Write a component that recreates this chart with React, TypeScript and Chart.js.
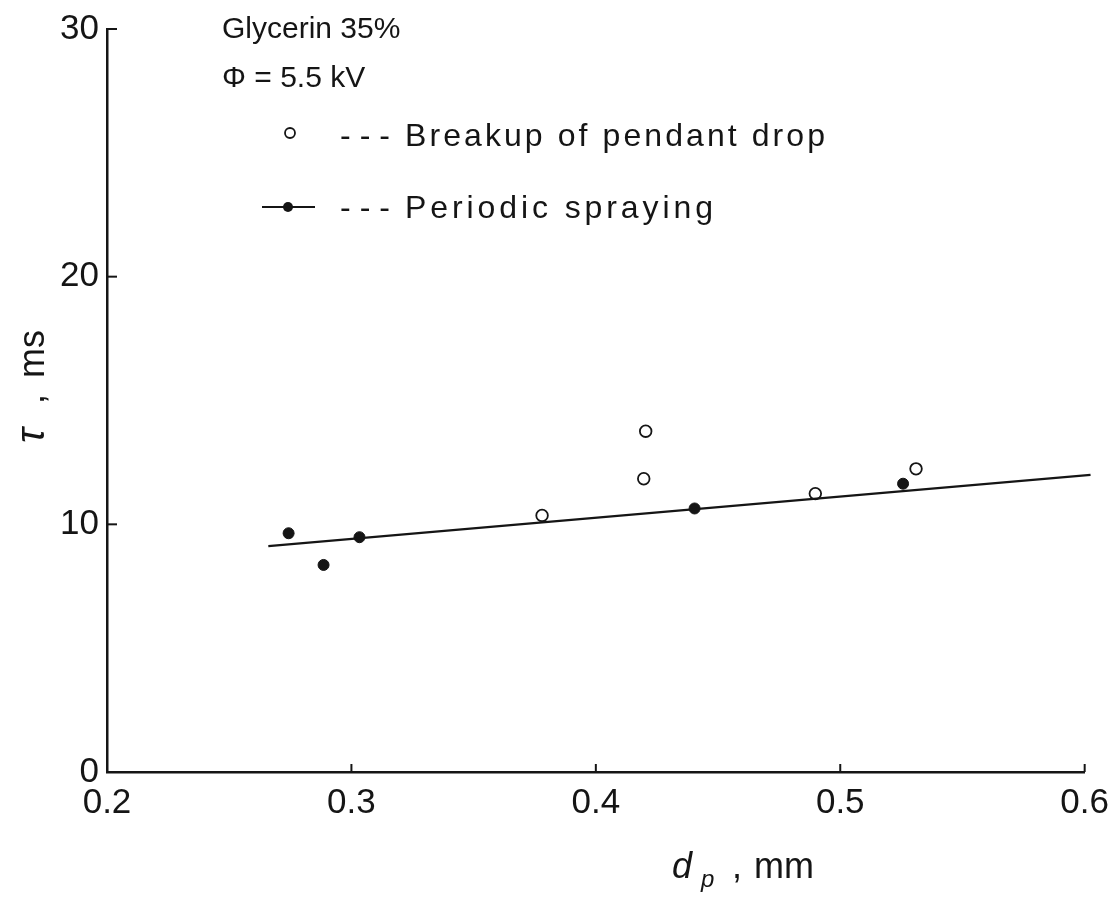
import React, { useEffect, useRef } from "react";
import { Chart, registerables } from "chart.js";

Chart.register(...registerables);

// Data
const breakupX = [0.378, 0.4204, 0.4196, 0.4898, 0.531];
const breakupY = [10.36, 13.76, 11.84, 11.24, 12.24];

const sprayX = [0.2743, 0.2886, 0.3033, 0.4404, 0.5257, 0.6045];
const sprayY = [9.64, 8.36, 9.48, 10.64, 11.64, 11.84];

const fitX = [0.266, 0.6024];
const fitY = [9.12, 12.0];

const xTicks = [0.2, 0.3, 0.4, 0.5, 0.6];
const yTicks = [0, 10, 20, 30];

const INK = "#151515";
const FONT = '"Liberation Sans", "DejaVu Sans", sans-serif';

function drawFit(ctx: CanvasRenderingContext2D, text: string, x: number, y: number, width: number) {
  const anyCtx = ctx as any;
  anyCtx.letterSpacing = "0px";
  const w = ctx.measureText(text).width;
  const n = Array.from(text).length;
  if ("letterSpacing" in anyCtx && n > 1) {
    anyCtx.letterSpacing = ((width - w) / (n - 1)).toFixed(2) + "px";
    ctx.fillText(text, x, y);
    anyCtx.letterSpacing = "0px";
  } else {
    ctx.save();
    ctx.translate(x, y);
    ctx.scale(width / w, 1);
    ctx.fillText(text, 0, 0);
    ctx.restore();
  }
}

const decorPlugin = {
  id: "decor",
  afterDraw(chart: any) {
    const ctx: CanvasRenderingContext2D = chart.ctx;
    const xs = chart.scales.x;
    const ys = chart.scales.y;
    const area = chart.chartArea;
    ctx.save();
    ctx.strokeStyle = INK;
    ctx.fillStyle = INK;
    ctx.lineWidth = 2;
    // inward ticks
    xTicks.slice(1).forEach((v) => {
      const px = xs.getPixelForValue(v);
      ctx.beginPath();
      ctx.moveTo(px, area.bottom);
      ctx.lineTo(px, area.bottom - 8);
      ctx.stroke();
    });
    yTicks.slice(1).forEach((v) => {
      const py = ys.getPixelForValue(v);
      ctx.beginPath();
      ctx.moveTo(area.left, py);
      ctx.lineTo(area.left + 10, py);
      ctx.stroke();
    });

    // annotations
    ctx.textBaseline = "alphabetic";
    ctx.textAlign = "left";
    ctx.font = "30px " + FONT;
    ctx.fillText("Glycerin 35%", 222, 38);
    ctx.fillText("Φ = 5.5 kV", 222, 87);
    ctx.font = "32px " + FONT;
    // legend markers
    ctx.lineWidth = 1.8;
    ctx.beginPath();
    ctx.arc(290, 133, 5, 0, Math.PI * 2);
    ctx.stroke();
    drawFit(ctx, "---", 340, 146, 50);
    drawFit(ctx, "Breakup of pendant drop", 405, 146, 420);

    ctx.lineWidth = 2;
    ctx.beginPath();
    ctx.moveTo(262, 207);
    ctx.lineTo(315, 207);
    ctx.stroke();
    ctx.beginPath();
    ctx.arc(288, 207, 5, 0, Math.PI * 2);
    ctx.fill();
    drawFit(ctx, "---", 340, 218, 50);
    drawFit(ctx, "Periodic spraying", 405, 218, 308);

    // y title (rotated)
    ctx.save();
    ctx.translate(44, 388);
    ctx.rotate(-Math.PI / 2);
    ctx.textAlign = "left";
    ctx.font = "italic 40px " + FONT;
    ctx.fillText("τ", -55, 0);
    ctx.font = "36px " + FONT;
    ctx.fillText(",", -16, 0);
    ctx.fillText("ms", 10, 0);
    ctx.restore();

    // x title
    ctx.font = "italic 36px " + FONT;
    ctx.fillText("d", 672, 878);
    ctx.font = "italic 24px " + FONT;
    ctx.fillText("p", 701, 887);
    ctx.font = "36px " + FONT;
    ctx.fillText(",", 732, 878);
    ctx.fillText("mm", 754, 878);
    ctx.restore();
  },
};

export default function App() {
  const ref = useRef<HTMLCanvasElement | null>(null);

  useEffect(() => {
    document.body.style.margin = "0";
    const canvas = ref.current;
    if (!canvas) return;
    const chart = new Chart(canvas, {
      type: "scatter",
      data: {
        datasets: [
          {
            type: "line",
            label: "fit",
            data: fitX.map((x, i) => ({ x, y: fitY[i] })),
            borderColor: INK,
            borderWidth: 2.2,
            pointRadius: 0,
            fill: false,
            clip: false as any,
          },
          {
            label: "Breakup of pendant drop",
            data: breakupX.map((x, i) => ({ x, y: breakupY[i] })),
            pointStyle: "circle",
            pointRadius: 5.8,
            backgroundColor: "#ffffff",
            borderColor: INK,
            borderWidth: 1.8,
            clip: false as any,
          },
          {
            label: "Periodic spraying",
            data: sprayX.map((x, i) => ({ x, y: sprayY[i] })),
            pointStyle: "circle",
            pointRadius: 5.5,
            backgroundColor: INK,
            borderColor: INK,
            borderWidth: 1,
            clip: false as any,
          },
        ],
      },
      options: {
        animation: false,
        responsive: false,
        maintainAspectRatio: false,
        layout: { padding: { left: 0, right: 31, top: 23, bottom: 0 } },
        plugins: {
          legend: { display: false },
          tooltip: { enabled: false },
        },
        scales: {
          x: {
            type: "linear",
            min: 0.2,
            max: 0.6,
            afterFit: (s: any) => {
              s.height = 136;
            },
            afterBuildTicks: (s: any) => {
              s.ticks = xTicks.map((v) => ({ value: v }));
            },
            grid: { display: true, drawOnChartArea: false, drawTicks: false },
            border: { display: true, color: INK, width: 2.5 },
            ticks: {
              padding: 10,
              color: INK,
              font: { family: FONT, size: 35 },
              callback: (v: any) => Number(v).toFixed(1),
            },
          },
          y: {
            type: "linear",
            min: 0,
            max: 30,
            afterFit: (s: any) => {
              s.width = 107;
            },
            afterBuildTicks: (s: any) => {
              s.ticks = yTicks.map((v) => ({ value: v }));
            },
            grid: { display: true, drawOnChartArea: false, drawTicks: false },
            border: { display: true, color: INK, width: 2.5 },
            ticks: {
              padding: 8,
              color: INK,
              font: { family: FONT, size: 35 },
              callback: (v: any) => String(v),
            },
          },
        },
      },
      plugins: [decorPlugin],
    });
    return () => chart.destroy();
  }, []);

  return (
    <div style={{ position: "absolute", left: 0, top: 0, width: 1119, height: 908, background: "#fff" }}>
      <canvas ref={ref} width={1119} height={908} style={{ width: 1119, height: 908, display: "block" }} />
    </div>
  );
}
